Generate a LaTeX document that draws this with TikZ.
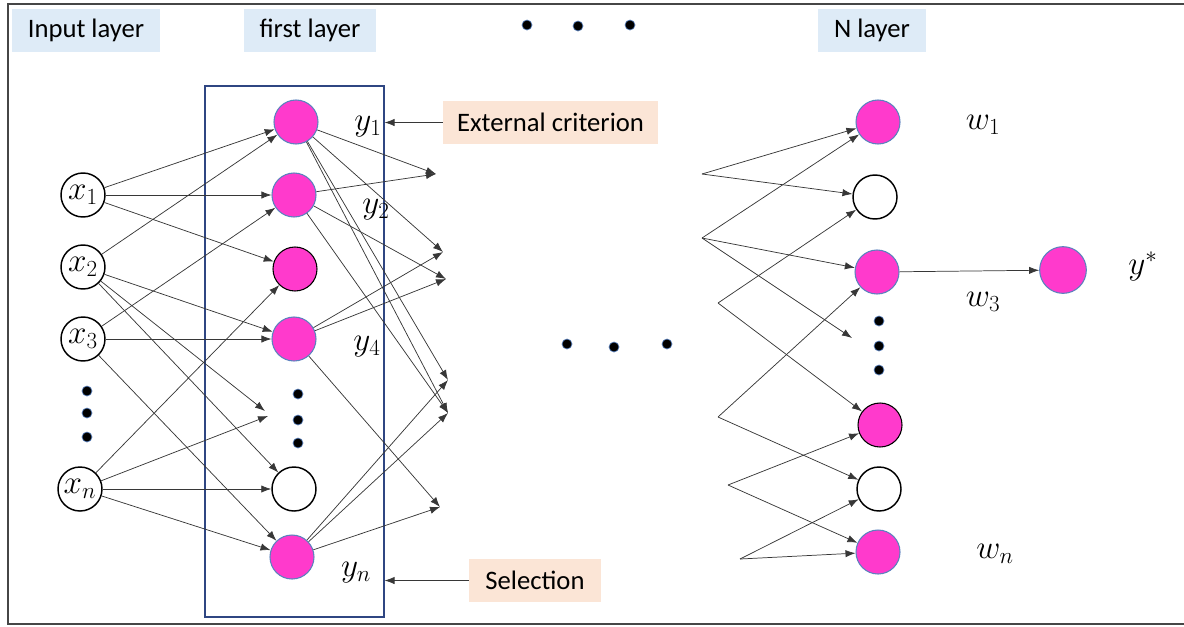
\documentclass[tikz,border=0pt]{standalone}
\usepackage{fontspec}
\setsansfont{Carlito}
\usetikzlibrary{arrows.meta}
\definecolor{pinkf}{RGB}{255,58,204}
\definecolor{edgeb}{RGB}{91,130,190}
\definecolor{boxblue}{RGB}{222,235,247}
\definecolor{boxpeach}{RGB}{251,229,214}
\definecolor{framec}{RGB}{47,70,130}
\definecolor{linec}{RGB}{55,55,55}
\definecolor{outerc}{RGB}{70,70,70}
\begin{document}
\begin{tikzpicture}[x=0.75pt,y=-0.75pt,
 pnode/.style={circle,fill=pinkf,draw=edgeb,line width=0.8pt,minimum size=33pt,inner sep=0pt},
 pbnode/.style={pnode,draw=black},
 wnode/.style={circle,fill=white,draw=black,line width=1.1pt,minimum size=33pt,inner sep=0pt,font=\fontsize{25}{29}\selectfont},
 dotn/.style={circle,fill=black,draw=edgeb,line width=0.5pt,minimum size=7.5pt,inner sep=0pt},
 lbl/.style={font=\fontsize{24}{28}\selectfont,inner sep=0pt},
 head/.style={fill=boxblue,font=\sffamily\fontsize{20}{24}\selectfont,inner sep=0pt,minimum height=32.25pt},
 note/.style={fill=boxpeach,font=\sffamily\fontsize{20}{24}\selectfont,inner sep=0pt,minimum height=32.25pt},
 conn/.style={draw=linec,line width=0.55pt,-{Latex[length=7.5pt,width=5.5pt]}},
]
\useasboundingbox (0,0) rectangle (1184,626);
\draw[outerc,line width=1.1pt] (1184,4) -- (8,4) -- (8,624) -- (1184,624);

% headers
\node[head,minimum width=111pt] (hin) at (86,30.5) {Input layer};
\node[head,minimum width=99pt] (hfirst) at (310,30.5) {first layer};
\node[head,minimum width=81pt] (hN) at (872,30.5) {N layer};
\node[dotn] (td1) at (527,25) {};
\node[dotn] (td2) at (578,26) {};
\node[dotn] (td3) at (630,25) {};

% first layer frame
\node[draw=framec,line width=0.8pt,minimum width=134.25pt,minimum height=398.25pt,inner sep=0pt] (fr) at (294.5,351.5) {};

% input nodes
\node[wnode] (x1) at (83,195) {$x_1$};
\node[wnode] (x2) at (83,267) {$x_2$};
\node[wnode] (x3) at (83,339) {$x_3$};
\node[wnode] (xn) at (80,489) {$x_n$};
\node[dotn] (id1) at (87,391) {};
\node[dotn] (id2) at (87,413) {};
\node[dotn] (id3) at (87,437) {};

% first layer nodes
\node[pnode] (L1) at (296,122) {};
\node[pnode] (L2) at (294,195) {};
\node[pbnode] (L3) at (295,269) {};
\node[pnode] (L4) at (294,339) {};
\node[wnode] (L5) at (294,489) {};
\node[pnode] (L6) at (292,557) {};
\node[dotn] (fd1) at (298,394) {};
\node[dotn] (fd2) at (298,420) {};
\node[dotn] (fd3) at (298,443) {};

\node[lbl] (y1) at (368,127) {$y_1$};
\node[lbl] (y2) at (376,210) {$y_2$};
\node[lbl] (y4) at (367,347) {$y_4$};
\node[lbl] (yn) at (356,573) {$y_n$};

% notes
\node[note,minimum width=161.25pt] (ext) at (550.5,122.5) {External criterion};
\node[note,minimum width=99pt] (sel) at (535,580.5) {Selection};
\draw[conn] (ext.west) -- (ext.west -| fr.east);
\draw[conn] (sel.west) -- (sel.west -| fr.east);

% tips
\coordinate (DA) at (265,411);
\coordinate (DB) at (268,416);
\coordinate (A) at (436,174);
\coordinate (B) at (443,252);
\coordinate (C) at (446,279);
\coordinate (D) at (448,380);
\coordinate (E) at (448,413);
\coordinate (F) at (440,507);

% input -> first layer
\draw[conn] (x1) -- (L1);
\draw[conn] (x1) -- (L2);
\draw[conn] (x1) -- (L3);
\draw[conn] (x2) -- (L1);
\draw[conn] (x2) -- (L4);
\draw[conn] (x2) -- (DA);
\draw[conn] (x2) -- (L5);
\draw[conn] (x3) -- (L2);
\draw[conn] (x3) -- (L4);
\draw[conn] (x3) -- (L6);
\draw[conn] (xn) -- (L3);
\draw[conn] (xn) -- (DB);
\draw[conn] (xn) -- (L5);
\draw[conn] (xn) -- (L6);

% first layer -> next
\draw[conn] (L1) -- (A);
\draw[conn] (L1) -- (B);
\draw[conn] (L1) -- (D);
\draw[conn] (L1) -- (E);
\draw[conn] (L2) -- (A);
\draw[conn] (L2) -- (C);
\draw[conn] (L2) -- (E);
\draw[conn] (L4) -- (B);
\draw[conn] (L4) -- (C);
\draw[conn] (L4) -- (F);
\draw[conn] (L6) -- (D);
\draw[conn] (L6) -- (E);
\draw[conn] (L6) -- (F);

% middle dots
\node[dotn] (md1) at (567,344) {};
\node[dotn] (md2) at (614,347) {};
\node[dotn] (md3) at (667,344) {};

% N layer
\node[pnode] (R1) at (878,122) {};
\node[wnode] (R2) at (875,197) {};
\node[pnode] (R3) at (877,272) {};
\node[pbnode] (R4) at (880,425) {};
\node[wnode] (R5) at (879,489) {};
\node[pnode] (R6) at (878,552) {};
\node[dotn] (rd1) at (879,321) {};
\node[dotn] (rd2) at (879,346) {};
\node[dotn] (rd3) at (879,370) {};

\node[lbl] (w1) at (983,125) {$w_1$};
\node[lbl] (w3) at (983,302) {$w_3$};
\node[lbl] (wn) at (995,554) {$w_n$};

\node[pnode,minimum size=35pt] (Y) at (1063,270) {};
\node[lbl] (ys) at (1143,266) {$y^{*}$};
\draw[conn] (R3) -- (Y);

\coordinate (P1) at (702,174);
\coordinate (P2) at (702,238);
\coordinate (P3) at (718,303);
\coordinate (P4) at (718,417);
\coordinate (P5) at (728,485);
\coordinate (P6) at (740,559);
\coordinate (TR) at (852,338);

\draw[conn] (P1) -- (R1);
\draw[conn] (P1) -- (R2);
\draw[conn] (P2) -- (R1);
\draw[conn] (P2) -- (R3);
\draw[conn] (P2) -- (TR);
\draw[conn] (P3) -- (R2);
\draw[conn] (P3) -- (R4);
\draw[conn] (P4) -- (R3);
\draw[conn] (P4) -- (R5);
\draw[conn] (P5) -- (R4);
\draw[conn] (P5) -- (R6);
\draw[conn] (P6) -- (R5);
\draw[conn] (P6) -- (R6);
\end{tikzpicture}
\end{document}
